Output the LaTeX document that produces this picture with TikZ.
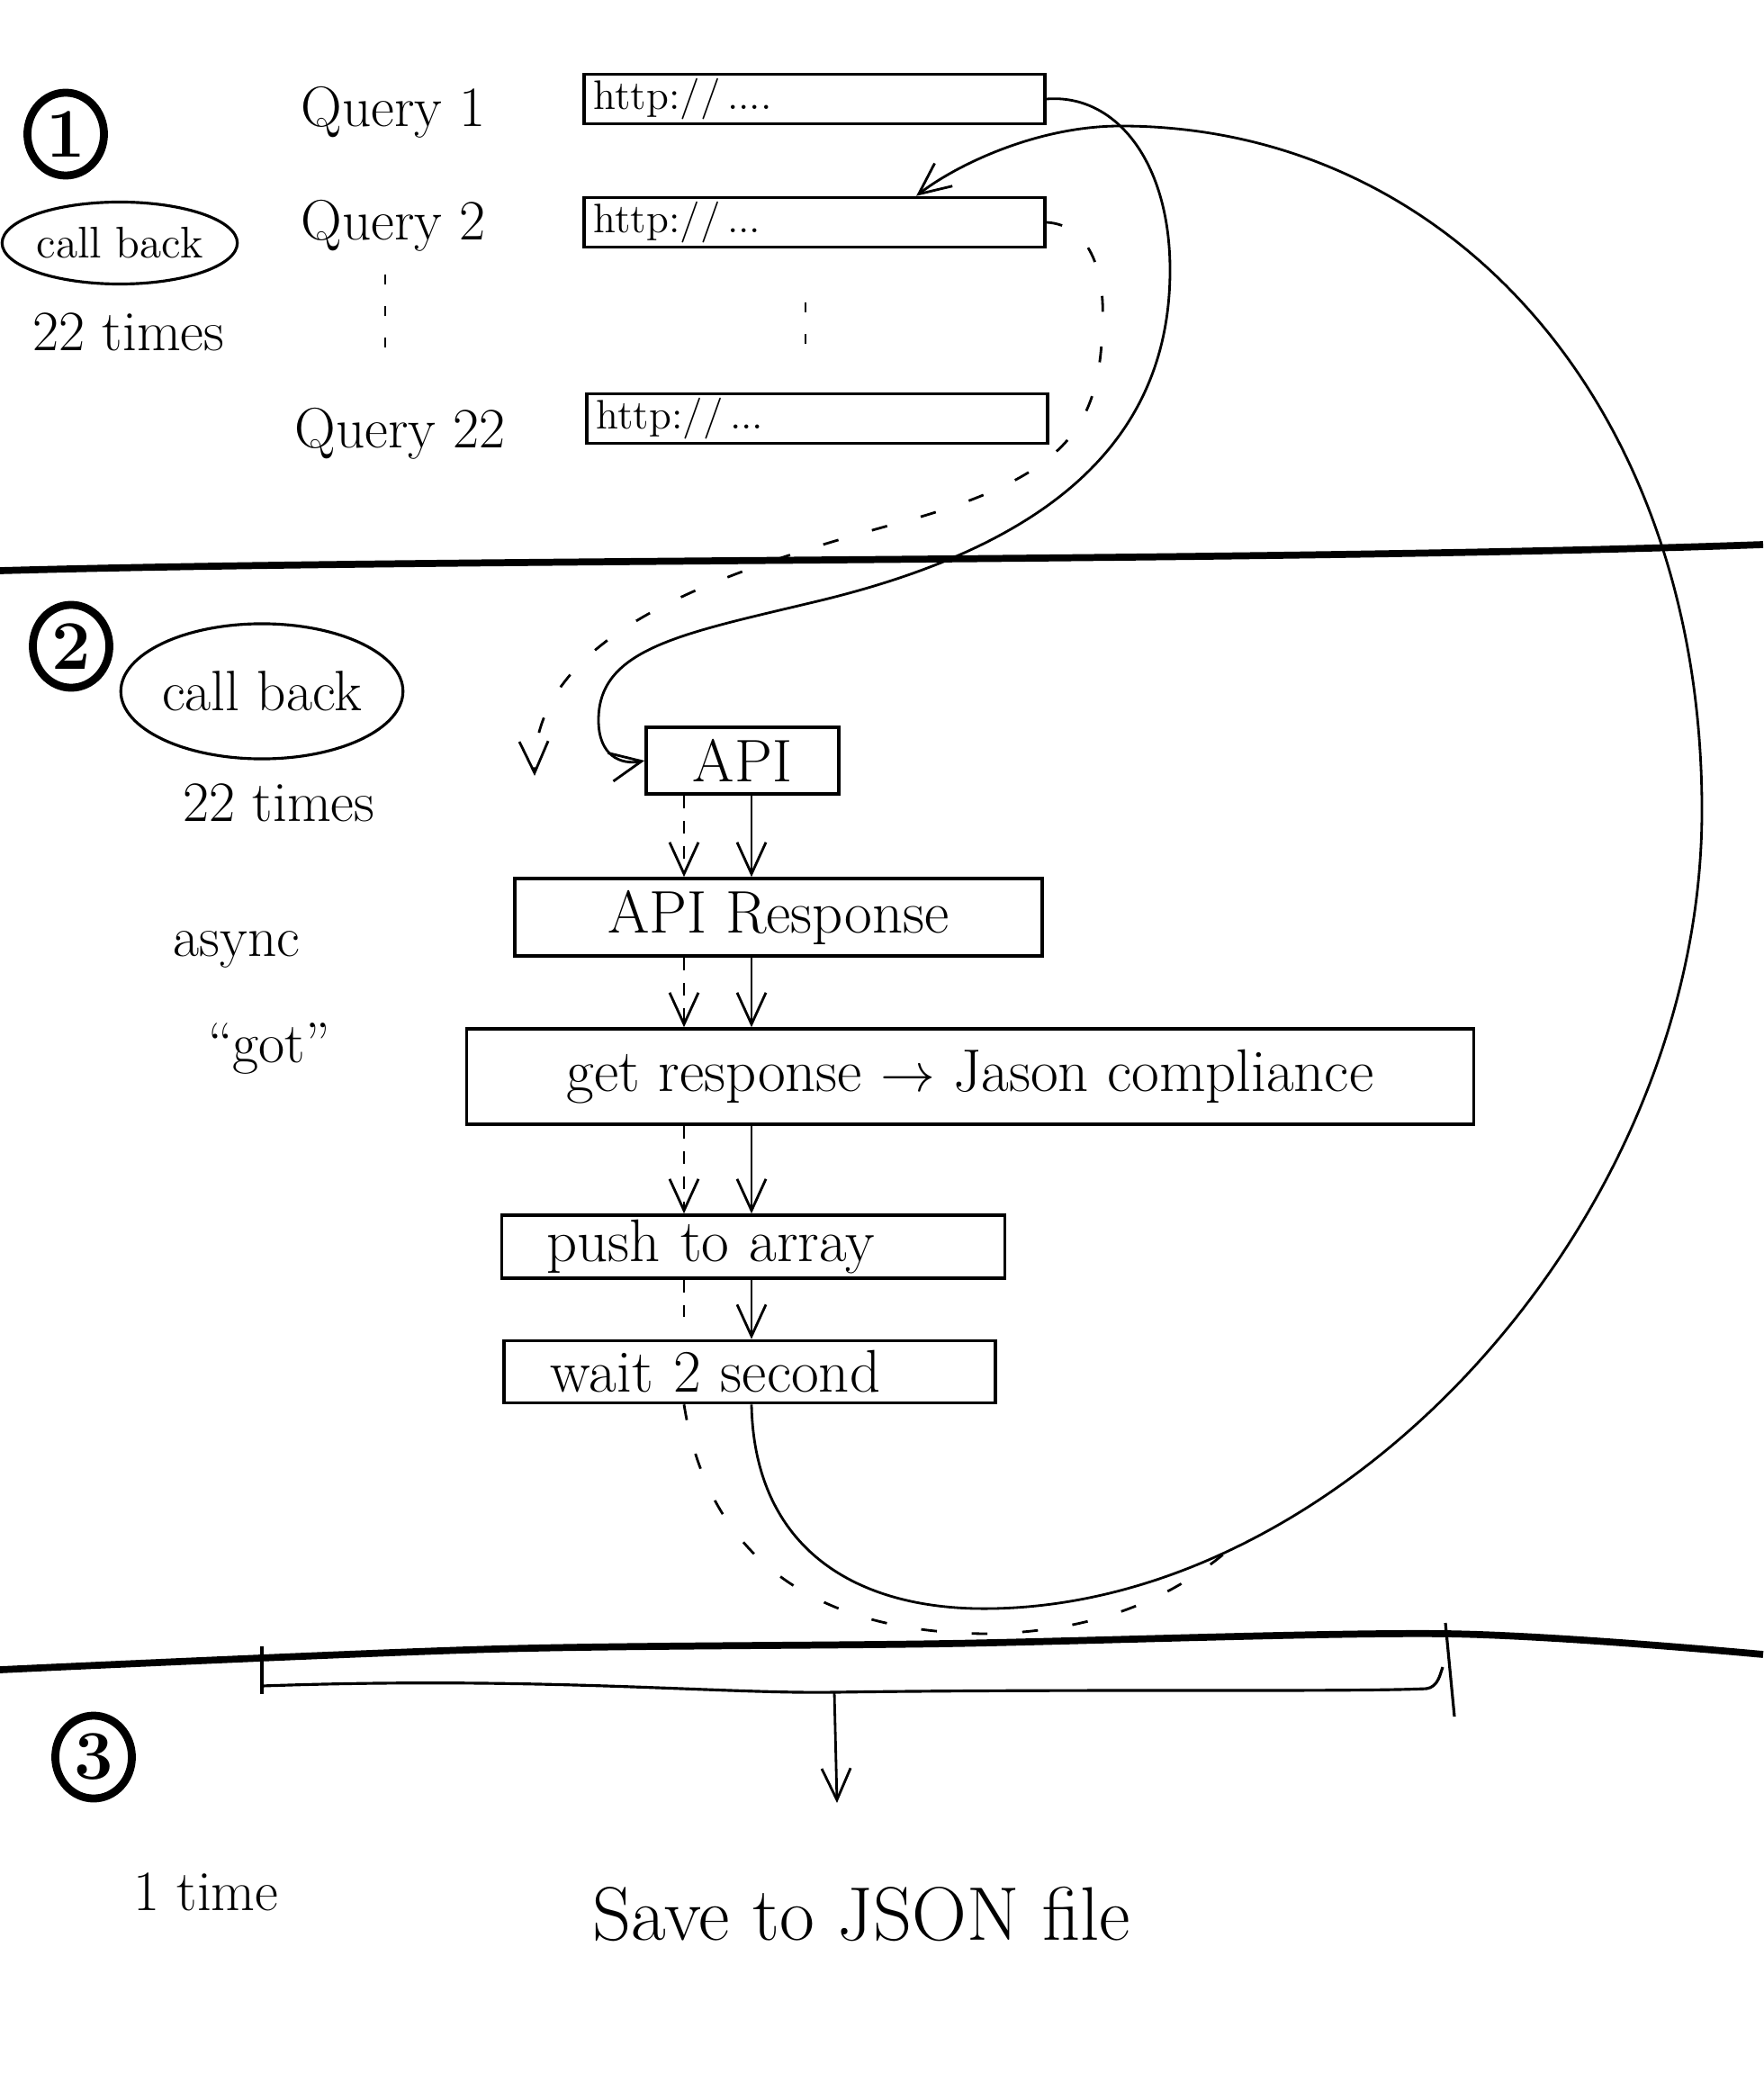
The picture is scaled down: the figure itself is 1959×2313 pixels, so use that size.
\documentclass[tikz,border=0pt]{standalone}
\usepackage{amsmath,amssymb}
\usepackage{tikz}
\usetikzlibrary{arrows.meta,shapes.geometric}

\begin{document}
\begin{tikzpicture}[x=0.01cm,y=-0.01cm,every node/.style={font=\fontsize{18}{20}\selectfont},
  numcirc/.style={draw,ellipse,line width=2.5pt,inner sep=0pt,minimum width=0.85cm,minimum height=0.92cm,font=\bfseries\fontsize{22}{24}\selectfont},
  cbell/.style={draw,ellipse,line width=0.9pt,inner sep=0pt},
  urlbox/.style={draw,line width=1pt,rectangle,minimum height=0.55cm,text width=4.9cm,inner xsep=0.11cm,inner ysep=0pt,align=left,font=\fontsize{13}{15}\selectfont},
  stepbox/.style={draw,line width=1pt,rectangle,inner sep=0pt,font=\fontsize{19}{21}\selectfont},
  flow/.style={line width=0.8pt,-{Straight Barb[length=3.5mm,width=3.2mm]}},
  dflow/.style={flow,dash pattern=on 4pt off 4pt},
  longdash/.style={line width=0.8pt,dash pattern=on 5pt off 11pt},
  divider/.style={line width=2.2pt}]
\useasboundingbox (0,0) rectangle (1959,2313);
\node[numcirc] (one) at (73,149) {1};
\node[numcirc] (two) at (79,718) {2};
\node[numcirc] (three) at (104,1952) {3};
\node[anchor=west] (q1) at (322,125) {Query 1};
\node[anchor=west] (q2) at (322,251) {Query 2};
\node[anchor=west] (q22) at (315,482) {Query 22};
\node[cbell,minimum width=2.5cm,minimum height=0.91cm,font=\fontsize{14}{16}\selectfont] (cb1) at (133,270) {call back};
\node (times1) at (143,369) {22 times};
\node[urlbox] (qb1) at (905,110) {http://\,....};
\node[urlbox] (qb2) at (905,247) {http://\,...};
\node[urlbox] (qb3) at (908,465) {http://\,...};
\draw[line width=0.8pt,dash pattern=on 3pt off 7pt] (428,305) -- (428,398);
\draw[line width=0.8pt,dash pattern=on 3pt off 7pt] (895,336) -- (895,398);
\node[cbell,minimum width=3.02cm,minimum height=1.5cm] (cb2) at (291,768) {call back};
\node (times2) at (310,892) {22 times};
\node (async) at (263,1055) {async};
\node (got) at (299,1165) {“got”};
\node[stepbox,minimum width=2.14cm,minimum height=0.74cm] (api) at (825,845) {API};
\node[stepbox,minimum width=5.86cm,minimum height=0.86cm] (resp) at (865,1019) {API Response};
\node[stepbox,minimum width=11.18cm,minimum height=1.06cm] (getresp) at (1078,1196) {get response $\rightarrow$ Jason compliance};
\node[stepbox,minimum height=0.7cm,text width=4.59cm,inner xsep=0.5cm,align=left] (push) at (837,1385) {push to array};
\node[stepbox,minimum height=0.69cm,text width=4.42cm,inner xsep=0.52cm,align=left] (wait) at (833,1524) {wait 2 second};
\coordinate (dcol) at (760,0);
\coordinate (scol) at (835,0);
\draw[dflow] (api.south -| dcol) -- (resp.north -| dcol);
\draw[flow] (api.south -| scol) -- (resp.north -| scol);
\draw[dflow] (resp.south -| dcol) -- (getresp.north -| dcol);
\draw[flow] (resp.south -| scol) -- (getresp.north -| scol);
\draw[dflow] (getresp.south -| dcol) -- (push.north -| dcol);
\draw[flow] (getresp.south -| scol) -- (push.north -| scol);
\draw[dflow,-,shorten >=0.25cm] (push.south -| dcol) -- (wait.north -| dcol);
\draw[flow] (push.south -| scol) -- (wait.north -| scol);
\draw[flow] (wait.south -| scol) .. controls (838,1720) and (950,1790) .. (1103,1787) .. controls (1500,1780) and (1891,1350) .. (1891,900) .. controls (1891,450) and (1610,140) .. (1245,140) .. controls (1150,140) and (1060,185) .. ([xshift=1.13cm]qb2.north);
\draw[flow] (qb1.east) .. controls (1240,104) and (1300,180) .. (1300,300) .. controls (1300,500) and (1150,610) .. (908,668) .. controls (758,704) and (665,720) .. (665,800) .. controls (665,840) and (690,850) .. (api.west);
\coordinate (dashend) at (594,862);
\draw[flow,longdash] (qb2.east) .. controls (1210,250) and (1228,300) .. (1225,360) .. controls (1222,470) and (1190,525) .. (1020,575) .. controls (810,632) and (590,700) .. (dashend);
\coordinate (dashjoin) at (1359,1727);
\draw[longdash] (wait.south -| dcol) .. controls (790,1750) and (930,1815) .. (1100,1815) .. controls (1220,1812) and (1300,1775) .. (dashjoin);
\draw[divider] (0,634) .. controls (500,620) and (1400,625) .. (1959,605);
\draw[divider] plot[smooth] coordinates {(0,1855) (550,1832) (1050,1826) (1606,1815) (1959,1838)};
\draw[line width=0.9pt] (291,1829) -- (291,1882);
\draw[line width=0.9pt] (291,1873) .. controls (600,1862) and (800,1882) .. (927,1880) .. controls (1200,1876) and (1500,1880) .. (1585,1876) .. controls (1598,1874) and (1600,1860) .. (1603,1852);
\draw[line width=0.9pt] (1606,1803) -- (1616,1907);
\coordinate (brmid) at (927,1880);
\coordinate (brend) at (930,2003);
\draw[flow] (brmid) -- (brend);
\node (once) at (229,2102) {1 time};
\node[font=\fontsize{24}{26}\selectfont] (save) at (957,2127) {Save to JSON file};
\end{tikzpicture}
\end{document}
